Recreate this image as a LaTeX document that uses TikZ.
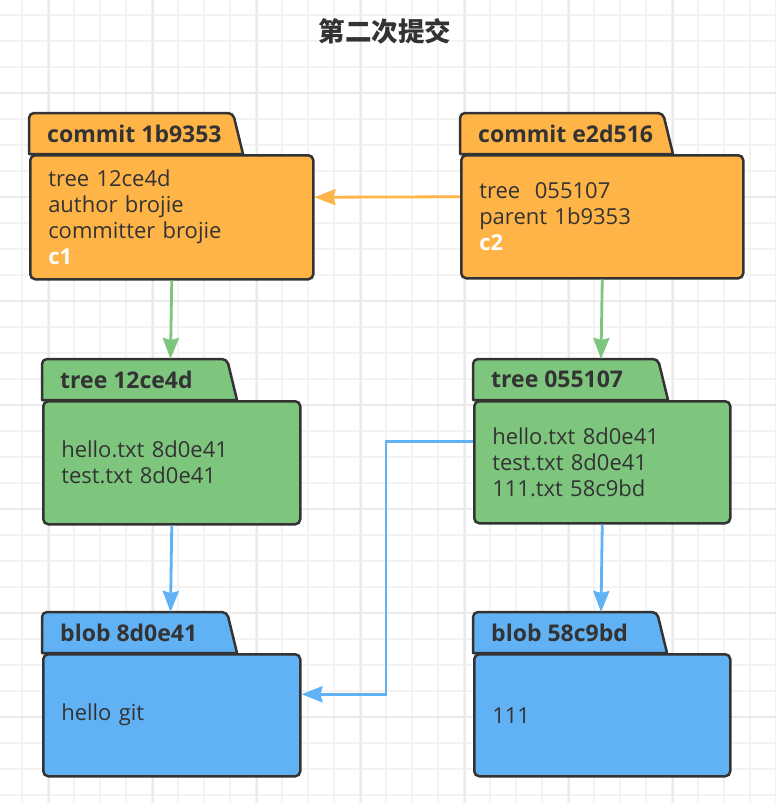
\documentclass[tikz,border=0pt]{standalone}
\usepackage{fontspec}
\setmainfont{Open Sans}
\newfontfamily\cjk{Noto Sans CJK SC}
\usetikzlibrary{calc,
                arrows.meta
                }

\definecolor{commitfill}{RGB}{255,180,72}
\definecolor{treefill}{RGB}{126,198,126}
\definecolor{blobfill}{RGB}{96,178,245}
\definecolor{randgrau}{RGB}{51,51,51}
\definecolor{rasterfein}{RGB}{243,243,243}
\definecolor{rastergrob}{RGB}{234,234,234}

\tikzset{
    rasterlinie/.style={draw=rasterfein, line width=1.2pt},
    rasterhaupt/.style={draw=rastergrob, line width=1.4pt},
    reiter/.style={draw=randgrau, line width=2.5pt, line join=round},
    koerper/.style={draw=randgrau, line width=2.5pt, rounded corners=5pt,
        anchor=north west, inner xsep=18pt, inner ysep=0pt, align=left,
        text=randgrau, font=\fontsize{22}{26}\selectfont},
    kopf/.style={anchor=west, inner sep=0pt, text=randgrau,
        font=\bfseries\fontsize{23}{26}\selectfont},
    pfeil/.style={line width=2.8pt, -{Stealth[length=21pt, width=16pt, inset=2pt]}}
}

% Ordner: Name, Farbe, x, y (Oberkante), Breite, Hoehe, Reiterbreite, Kopf, Inhalt
\newcommand{\ordner}[9]{%
    \filldraw[reiter, fill=#2] (#3,#4) [rounded corners=5pt] -- (#3,#4-41)
        -- (#3+#7,#4-41) [sharp corners] -- (#3+#7+10,#4) -- cycle;
    \pgfmathsetmacro{\textbreite}{#5-36}
    \node[koerper, fill=#2, minimum width=#5pt, minimum height=#6pt,
        text width=\textbreite pt] (#1) at (#3,#4) {#9};
    \node[kopf] (#1kopf) at (#3+18,#4-20.5) {#8};
    \coordinate (#1oben) at (#3+#5/2,#4-41);
}

\begin{document}
\begin{tikzpicture}[x=1pt, y=-1pt]
    \useasboundingbox (0,0) rectangle (776,803);

    % Hintergrundraster
    \fill[white] (0,0) rectangle (776,803);
    \foreach \gx in {22,48,...,776} \draw[rasterlinie] (\gx,0) -- (\gx,803);
    \foreach \gy in {15,41,...,803} \draw[rasterlinie] (0,\gy) -- (776,\gy);
    \foreach \gx in {49,153,...,776} \draw[rasterhaupt] (\gx,0) -- (\gx,803);
    \foreach \gy in {93,197,...,803} \draw[rasterhaupt] (0,\gy) -- (776,\gy);

    % Titel
    \node[text=randgrau, font=\cjk\bfseries\fontsize{26.5}{30}\selectfont] (titel) at (385,31) {第二次提交};

    % Commits
    \ordner{c1}{commitfill}{29}{154}{283}{124}{204}{commit 1b9353}
        {tree 12ce4d\\author brojie\\committer brojie\\\textcolor{white}{\bfseries c1}}
    \ordner{c2}{commitfill}{460}{154}{282}{123}{203}{commit e2d516}
        {tree\ \ 055107\\parent 1b9353\\\textcolor{white}{\bfseries c2}}

    % Trees
    \ordner{t1}{treefill}{42}{400}{257}{123}{185}{tree 12ce4d}
        {hello.txt 8d0e41\\test.txt 8d0e41}
    \ordner{t2}{treefill}{473}{400}{256}{122}{185}{tree 055107}
        {hello.txt 8d0e41\\test.txt 8d0e41\\111.txt 58c9bd}

    % Blobs
    \ordner{b1}{blobfill}{42}{653}{257}{122}{185}{blob 8d0e41}
        {hello git}
    \ordner{b2}{blobfill}{473}{653}{256}{122}{184}{blob 58c9bd}
        {111}

    % Verbindungen
    \draw[pfeil, commitfill] ([yshift=20pt]c2.west) -- ([yshift=20pt]c1.east);
    \draw[pfeil, treefill] (c1.south) -- (t1oben);
    \draw[pfeil, treefill] (c2.south) -- (t2oben);
    \draw[pfeil, blobfill] (t1.south) -- (b1oben);
    \draw[pfeil, blobfill] (t2.south) -- (b2oben);
    \draw[pfeil, blobfill] ([yshift=21pt]t2.west) -- ++(-87,0)
        |- ([yshift=21pt]b1.east);

\end{tikzpicture}
\end{document}
